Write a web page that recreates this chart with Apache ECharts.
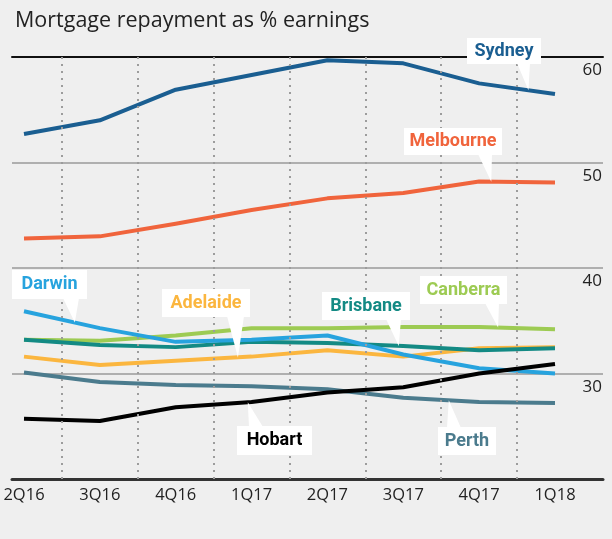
<!DOCTYPE html>
<html><head><meta charset="utf-8">
<script src="https://cdn.jsdelivr.net/npm/echarts@6/dist/echarts.min.js"></script>
<style>html,body{margin:0;padding:0;background:#efefef}#c{width:612px;height:539px}</style>
</head><body><div id="c"></div>
<script>
const categories = ['2Q16','3Q16','4Q16','1Q17','2Q17','3Q17','4Q17','1Q18'];
const sydney    = [52.7,54.0,56.9,58.3,59.7,59.4,57.5,56.5];
const melbourne = [42.8,43.0,44.2,45.5,46.6,47.1,48.2,48.1];
const canberra  = [33.2,33.1,33.6,34.3,34.3,34.4,34.4,34.2];
const adelaide  = [31.6,30.8,31.2,31.6,32.2,31.6,32.4,32.5];
const brisbane  = [33.2,32.7,32.5,33.0,32.9,32.6,32.2,32.4];
const darwin    = [35.9,34.3,33.0,33.2,33.6,31.8,30.5,30.0];
const perth     = [30.1,29.2,28.9,28.8,28.5,27.7,27.3,27.2];
const hobart    = [25.7,25.5,26.8,27.3,28.2,28.7,30.0,30.9];
const yMin = 20, yMax = 60, yStep = 10;

const seriesDefs = [
  {name:'Canberra', data:canberra, color:'#9dcb53'},
  {name:'Adelaide', data:adelaide, color:'#fbb63f'},
  {name:'Brisbane', data:brisbane, color:'#138a84'},
  {name:'Darwin', data:darwin, color:'#27a3de'},
  {name:'Perth', data:perth, color:'#4b7b8d'},
  {name:'Hobart', data:hobart, color:'#000000'},
  {name:'Melbourne', data:melbourne, color:'#f0643c'},
  {name:'Sydney', data:sydney, color:'#1a5e91'}
];

// annotation layout: box [x,y,w,h], pointer base x-range, base side, tip position as fractional category index
const annotations = [
  {name:'Sydney', box:[467,38,74,26], base:[517,530], side:'bottom', at:6.65},
  {name:'Melbourne', box:[404,128,98,27], base:[478,492], side:'bottom', at:6.16},
  {name:'Darwin', box:[12,270,75,29], base:[63,79], side:'bottom', at:0.67},
  {name:'Adelaide', box:[162,289,88,28], base:[227,244], side:'bottom', at:2.82},
  {name:'Brisbane', box:[322,292,88,28], base:[386,401], side:'bottom', at:4.94},
  {name:'Canberra', box:[420,276,87,28], base:[485,499], side:'bottom', at:6.25},
  {name:'Hobart', box:[237,426,75,29], base:[249,263], side:'top', at:2.95},
  {name:'Perth', box:[438,427,58,28], base:[447,461], side:'top', at:5.6}
];

const FONT = '"Open Sans", sans-serif';
const chart = echarts.init(document.getElementById('c'), null, {renderer:'canvas'});

const series = [{
  type:'line', xAxisIndex:0, yAxisIndex:0, data:[[0,yMin]], symbol:'none', z:1,
  lineStyle:{opacity:0}, silent:true,
  markLine:{silent:true, symbol:'none', label:{show:false},
    lineStyle:{color:'#9c9c9c', width:2, type:[2,5]},
    data: categories.slice(1).map((c,i)=>({xAxis:i+0.5}))}
}];
seriesDefs.forEach(s=>{
  series.push({name:s.name, type:'line', xAxisIndex:0, yAxisIndex:0, z:3,
    data:s.data.map((v,i)=>[i,v]), symbol:'none', smooth:false,
    lineStyle:{color:s.color, width:4, cap:'butt', join:'round'}, itemStyle:{color:s.color}});
});

chart.setOption({
  backgroundColor:'#efefef',
  animation:false,
  title:{text:'Mortgage repayment as % earnings', left:10, top:5,
    textStyle:{fontFamily:FONT, fontSize:21.5, fontWeight:'normal', color:'#222'}},
  grid:[
    {left:24, right:57, top:57, bottom:60},
    {left:12, right:9, top:57, bottom:60}
  ],
  xAxis:[
    {gridIndex:0, type:'value', min:0, max:categories.length-1, interval:1,
      axisLine:{show:false}, axisTick:{show:false}, splitLine:{show:false},
      axisLabel:{margin:8, fontFamily:FONT, fontSize:16.5, color:'#222', formatter:v=>categories[v]||''}},
    {gridIndex:1, type:'value', min:0, max:1, position:'bottom',
      axisLine:{show:true, lineStyle:{color:'#333', width:3}}, axisTick:{show:false},
      axisLabel:{show:false}, splitLine:{show:false}},
    {gridIndex:1, type:'value', min:0, max:1, position:'top',
      axisLine:{show:true, lineStyle:{color:'#111', width:2}}, axisTick:{show:false},
      axisLabel:{show:false}, splitLine:{show:false}}
  ],
  yAxis:[
    {gridIndex:0, type:'value', min:yMin, max:yMax, interval:yStep, show:false},
    {gridIndex:1, type:'value', min:yMin, max:yMax, interval:yStep, position:'right',
      axisLine:{show:false}, axisTick:{show:false},
      splitLine:{show:true, lineStyle:{color:'#9a9a9a', width:1.5}},
      axisLabel:{inside:true, margin:1, verticalAlign:'top', padding:[5,0,0,0],
        fontFamily:FONT, fontSize:17, color:'#222', formatter:v=> v===yMin ? '' : String(v)}}
  ],
  series: series
});

// build annotations with pointer tips located on the series via the chart's scales
const graphics = [];
annotations.forEach(a=>{
  const def = seriesDefs.find(s=>s.name===a.name);
  const i0 = Math.floor(a.at), f = a.at - i0;
  const i1 = Math.min(i0+1, def.data.length-1);
  const p0 = chart.convertToPixel({xAxisIndex:0, yAxisIndex:0}, [i0, def.data[i0]]);
  const p1 = chart.convertToPixel({xAxisIndex:0, yAxisIndex:0}, [i1, def.data[i1]]);
  const tip = [p0[0]+(p1[0]-p0[0])*f, p0[1]+(p1[1]-p0[1])*f];
  const [bx,by,bw,bh] = a.box;
  const baseY = a.side==='bottom' ? by+bh-1 : by+1;
  graphics.push({type:'polygon', z:50, silent:true,
    shape:{points:[[a.base[0],baseY],[a.base[1],baseY],tip]}, style:{fill:'#ffffff'}});
  graphics.push({type:'rect', z:51, silent:true,
    shape:{x:bx,y:by,width:bw,height:bh}, style:{fill:'#ffffff'}});
  graphics.push({type:'text', z:52, silent:true, x:bx+bw/2, y:by+bh/2,
    style:{text:a.name, font:'bold 18px Roboto, sans-serif', fill:def.color, align:'center', verticalAlign:'middle'}});
});
chart.setOption({graphic:graphics});
</script>
</body></html>
